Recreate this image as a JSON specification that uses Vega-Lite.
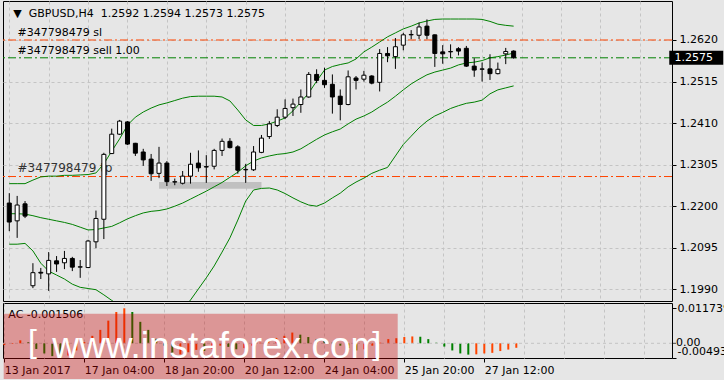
{
  "$schema": "https://vega.github.io/schema/vega-lite/v6.json",
  "background": "#e6e6e6",
  "padding": {"left": 2, "top": 0, "right": 0, "bottom": 0},
  "spacing": 2,
  "bounds": "flush",
  "config": {
    "view": {"stroke": "#000000", "strokeWidth": 1},
    "font": "DejaVu Sans",
    "axis": {"labelFont": "DejaVu Sans", "labelFontSize": 11, "labelColor": "#000000", "gridColor": "#c4c4c4", "gridDash": [3, 3], "gridWidth": 1, "tickColor": "#000000", "domain": false}
  },
  "datasets": {
    "bars": [
      {"i":0,"o":1.2208,"h":1.2233,"l":1.2137,"c":1.2160,"u":1.2257,"m":1.2181,"lo":1.2104,"ac":-0.0006,"d":"g"},
      {"i":1,"o":1.2163,"h":1.2226,"l":1.2120,"c":1.2203,"u":1.2257,"m":1.2181,"lo":1.2104,"ac":-0.0002,"d":"g"},
      {"i":2,"o":1.2206,"h":1.2213,"l":1.2170,"c":1.2175,"u":1.2257,"m":1.2180,"lo":1.2106,"ac":0.0010,"d":"g"},
      {"i":3,"o":1.1999,"h":1.2056,"l":1.1993,"c":1.2032,"u":1.2266,"m":1.2176,"lo":1.2087,"ac":0.0004,"d":"r"},
      {"i":4,"o":1.2033,"h":1.2044,"l":1.2016,"c":1.2031,"u":1.2274,"m":1.2171,"lo":1.2056,"ac":-0.0019,"d":"r"},
      {"i":5,"o":1.2029,"h":1.2084,"l":1.1986,"c":1.2063,"u":1.2276,"m":1.2167,"lo":1.2036,"ac":-0.0034,"d":"r"},
      {"i":6,"o":1.2062,"h":1.2074,"l":1.2034,"c":1.2054,"u":1.2276,"m":1.2163,"lo":1.2026,"ac":-0.0043,"d":"r"},
      {"i":7,"o":1.2057,"h":1.2087,"l":1.2041,"c":1.2068,"u":1.2278,"m":1.2159,"lo":1.2016,"ac":-0.00493,"d":"r"},
      {"i":8,"o":1.2068,"h":1.2072,"l":1.2036,"c":1.2046,"u":1.2278,"m":1.2154,"lo":1.2003,"ac":-0.0041,"d":"g"},
      {"i":9,"o":1.2046,"h":1.2064,"l":1.2019,"c":1.2047,"u":1.2279,"m":1.2147,"lo":1.1995,"ac":-0.0024,"d":"g"},
      {"i":10,"o":1.2045,"h":1.2115,"l":1.2044,"c":1.2112,"u":1.2280,"m":1.2140,"lo":1.1992,"ac":0.0004,"d":"g"},
      {"i":11,"o":1.2110,"h":1.2189,"l":1.2094,"c":1.2169,"u":1.2284,"m":1.2141,"lo":1.1989,"ac":0.0025,"d":"g"},
      {"i":12,"o":1.2167,"h":1.2335,"l":1.2117,"c":1.2331,"u":1.2307,"m":1.2145,"lo":1.1976,"ac":0.0045,"d":"g"},
      {"i":13,"o":1.2333,"h":1.2396,"l":1.2332,"c":1.2382,"u":1.2339,"m":1.2149,"lo":1.1962,"ac":0.0076,"d":"g"},
      {"i":14,"o":1.2382,"h":1.2418,"l":1.2380,"c":1.2415,"u":1.2370,"m":1.2158,"lo":1.1948,"ac":0.0105,"d":"g"},
      {"i":15,"o":1.2413,"h":1.2415,"l":1.2355,"c":1.2357,"u":1.2405,"m":1.2168,"lo":1.1930,"ac":0.011739,"d":"g"},
      {"i":16,"o":1.2359,"h":1.2360,"l":1.2327,"c":1.2334,"u":1.2425,"m":1.2176,"lo":1.1917,"ac":0.0105,"d":"r"},
      {"i":17,"o":1.2337,"h":1.2345,"l":1.2302,"c":1.2317,"u":1.2438,"m":1.2183,"lo":1.1910,"ac":0.0072,"d":"r"},
      {"i":18,"o":1.2319,"h":1.2332,"l":1.2264,"c":1.2282,"u":1.2448,"m":1.2187,"lo":1.1905,"ac":0.0045,"d":"r"},
      {"i":19,"o":1.2283,"h":1.2350,"l":1.2271,"c":1.2309,"u":1.2456,"m":1.2189,"lo":1.1905,"ac":0.0015,"d":"r"},
      {"i":20,"o":1.2309,"h":1.2314,"l":1.2251,"c":1.2262,"u":1.2461,"m":1.2193,"lo":1.1910,"ac":-0.0008,"d":"r"},
      {"i":21,"o":1.2261,"h":1.2270,"l":1.2253,"c":1.2262,"u":1.2467,"m":1.2200,"lo":1.1923,"ac":-0.0042,"d":"r"},
      {"i":22,"o":1.2258,"h":1.2289,"l":1.2255,"c":1.2276,"u":1.2473,"m":1.2208,"lo":1.1940,"ac":-0.0037,"d":"g"},
      {"i":23,"o":1.2276,"h":1.2335,"l":1.2257,"c":1.2306,"u":1.2477,"m":1.2218,"lo":1.1963,"ac":-0.0030,"d":"g"},
      {"i":24,"o":1.2309,"h":1.2341,"l":1.2287,"c":1.2297,"u":1.2478,"m":1.2228,"lo":1.1991,"ac":-0.0022,"d":"g"},
      {"i":25,"o":1.2300,"h":1.2329,"l":1.2259,"c":1.2299,"u":1.2478,"m":1.2238,"lo":1.2019,"ac":-0.0026,"d":"r"},
      {"i":26,"o":1.2301,"h":1.2345,"l":1.2293,"c":1.2341,"u":1.2478,"m":1.2249,"lo":1.2049,"ac":-0.0018,"d":"g"},
      {"i":27,"o":1.2341,"h":1.2371,"l":1.2327,"c":1.2364,"u":1.2476,"m":1.2260,"lo":1.2084,"ac":-0.0008,"d":"g"},
      {"i":28,"o":1.2364,"h":1.2372,"l":1.2346,"c":1.2348,"u":1.2466,"m":1.2273,"lo":1.2120,"ac":-0.0012,"d":"r"},
      {"i":29,"o":1.2350,"h":1.2354,"l":1.2282,"c":1.2291,"u":1.2443,"m":1.2286,"lo":1.2165,"ac":-0.0020,"d":"r"},
      {"i":30,"o":1.2292,"h":1.2307,"l":1.2259,"c":1.2293,"u":1.2418,"m":1.2302,"lo":1.2213,"ac":-0.0016,"d":"g"},
      {"i":31,"o":1.2292,"h":1.2352,"l":1.2289,"c":1.2337,"u":1.2404,"m":1.2314,"lo":1.2241,"ac":-0.0008,"d":"g"},
      {"i":32,"o":1.2336,"h":1.2380,"l":1.2334,"c":1.2372,"u":1.2404,"m":1.2322,"lo":1.2245,"ac":0.0002,"d":"g"},
      {"i":33,"o":1.2376,"h":1.2415,"l":1.2370,"c":1.2408,"u":1.2408,"m":1.2327,"lo":1.2246,"ac":0.0010,"d":"g"},
      {"i":34,"o":1.2404,"h":1.2445,"l":1.2400,"c":1.2425,"u":1.2415,"m":1.2331,"lo":1.2241,"ac":0.0018,"d":"g"},
      {"i":35,"o":1.2425,"h":1.2470,"l":1.2420,"c":1.2447,"u":1.2423,"m":1.2333,"lo":1.2232,"ac":0.0025,"d":"g"},
      {"i":36,"o":1.2449,"h":1.2472,"l":1.2428,"c":1.2458,"u":1.2441,"m":1.2337,"lo":1.2221,"ac":0.0036,"d":"g"},
      {"i":37,"o":1.2457,"h":1.2495,"l":1.2436,"c":1.2476,"u":1.2463,"m":1.2345,"lo":1.2211,"ac":0.0029,"d":"r"},
      {"i":38,"o":1.2476,"h":1.2539,"l":1.2474,"c":1.2533,"u":1.2486,"m":1.2357,"lo":1.2203,"ac":0.0021,"d":"r"},
      {"i":39,"o":1.2533,"h":1.2546,"l":1.2511,"c":1.2518,"u":1.2516,"m":1.2369,"lo":1.2200,"ac":0.0013,"d":"r"},
      {"i":40,"o":1.2518,"h":1.2550,"l":1.2499,"c":1.2507,"u":1.2544,"m":1.2380,"lo":1.2208,"ac":0.0008,"d":"r"},
      {"i":41,"o":1.2508,"h":1.2533,"l":1.2434,"c":1.2476,"u":1.2553,"m":1.2388,"lo":1.2221,"ac":0.0002,"d":"r"},
      {"i":42,"o":1.2478,"h":1.2495,"l":1.2417,"c":1.2457,"u":1.2558,"m":1.2395,"lo":1.2233,"ac":-0.0008,"d":"r"},
      {"i":43,"o":1.2457,"h":1.2543,"l":1.2455,"c":1.2527,"u":1.2562,"m":1.2408,"lo":1.2249,"ac":-0.0016,"d":"r"},
      {"i":44,"o":1.2524,"h":1.2529,"l":1.2495,"c":1.2518,"u":1.2572,"m":1.2420,"lo":1.2261,"ac":-0.0024,"d":"r"},
      {"i":45,"o":1.2521,"h":1.2542,"l":1.2515,"c":1.2531,"u":1.2590,"m":1.2428,"lo":1.2271,"ac":-0.0020,"d":"g"},
      {"i":46,"o":1.2529,"h":1.2531,"l":1.2508,"c":1.2511,"u":1.2602,"m":1.2438,"lo":1.2283,"ac":-0.0008,"d":"g"},
      {"i":47,"o":1.2513,"h":1.2597,"l":1.2490,"c":1.2586,"u":1.2615,"m":1.2451,"lo":1.2291,"ac":0.0002,"d":"g"},
      {"i":48,"o":1.2586,"h":1.2602,"l":1.2564,"c":1.2580,"u":1.2628,"m":1.2463,"lo":1.2298,"ac":0.0014,"d":"g"},
      {"i":49,"o":1.2578,"h":1.2625,"l":1.2547,"c":1.2603,"u":1.2638,"m":1.2478,"lo":1.2327,"ac":0.0017,"d":"g"},
      {"i":50,"o":1.2607,"h":1.2638,"l":1.2594,"c":1.2633,"u":1.2648,"m":1.2494,"lo":1.2356,"ac":0.0021,"d":"g"},
      {"i":51,"o":1.2633,"h":1.2645,"l":1.2622,"c":1.2634,"u":1.2655,"m":1.2509,"lo":1.2377,"ac":0.0023,"d":"g"},
      {"i":52,"o":1.2632,"h":1.2664,"l":1.2622,"c":1.2653,"u":1.2663,"m":1.2521,"lo":1.2398,"ac":0.0022,"d":"r"},
      {"i":53,"o":1.2655,"h":1.2672,"l":1.2622,"c":1.2632,"u":1.2668,"m":1.2532,"lo":1.2415,"ac":0.0014,"d":"r"},
      {"i":54,"o":1.2633,"h":1.2634,"l":1.2552,"c":1.2586,"u":1.2672,"m":1.2539,"lo":1.2428,"ac":0.0002,"d":"r"},
      {"i":55,"o":1.2590,"h":1.2607,"l":1.2560,"c":1.2585,"u":1.2673,"m":1.2544,"lo":1.2437,"ac":-0.0011,"d":"r"},
      {"i":56,"o":1.2590,"h":1.2609,"l":1.2574,"c":1.2591,"u":1.2673,"m":1.2549,"lo":1.2447,"ac":-0.0024,"d":"r"},
      {"i":57,"o":1.2598,"h":1.2602,"l":1.2581,"c":1.2592,"u":1.2673,"m":1.2557,"lo":1.2454,"ac":-0.0034,"d":"r"},
      {"i":58,"o":1.2599,"h":1.2605,"l":1.2552,"c":1.2554,"u":1.2673,"m":1.2562,"lo":1.2460,"ac":-0.0038,"d":"r"},
      {"i":59,"o":1.2554,"h":1.2574,"l":1.2527,"c":1.2544,"u":1.2673,"m":1.2564,"lo":1.2463,"ac":-0.0037,"d":"g"},
      {"i":60,"o":1.2546,"h":1.2563,"l":1.2515,"c":1.2547,"u":1.2672,"m":1.2568,"lo":1.2468,"ac":-0.0034,"d":"g"},
      {"i":61,"o":1.2547,"h":1.2584,"l":1.2519,"c":1.2535,"u":1.2667,"m":1.2575,"lo":1.2484,"ac":-0.0032,"d":"g"},
      {"i":62,"o":1.2535,"h":1.2563,"l":1.2533,"c":1.2546,"u":1.2660,"m":1.2578,"lo":1.2494,"ac":-0.0026,"d":"g"},
      {"i":63,"o":1.2585,"h":1.2600,"l":1.2559,"c":1.2591,"u":1.2657,"m":1.2582,"lo":1.2499,"ac":-0.0021,"d":"g"},
      {"i":64,"o":1.2592,"h":1.2594,"l":1.2573,"c":1.2575,"u":1.2655,"m":1.2587,"lo":1.2504,"ac":-0.001506,"d":"g"}
    ],
    "orders": [
      {"label": "#347798479 sl", "p": 1.2620, "k": "sl"},
      {"label": "#347798479 sell 1.00", "p": 1.2575, "k": "sell"},
      {"label": "#347798479 tp", "p": 1.2275, "k": "tp"}
    ]
  },
  "vconcat": [
    {
      "width": 669,
      "height": 300,
      "layer": [
        {
          "data": {"values": [{"a": 19, "b": 32, "t": 1.2261, "bt": 1.2244}]},
          "mark": {"type": "rect", "color": "#c0c0c0", "clip": true},
          "encoding": {
            "x": {"field": "a", "type": "quantitative", "title": null, "scale": {"domain": [-0.1625, 83.4625], "nice": false, "zero": false},
                  "axis": {"values": [0,5,10,15,20,25,30,35,40,45,50,55,60,65,70,75,80], "labels": false, "ticks": false, "domain": false, "grid": true, "title": null}},
            "x2": {"field": "b"},
            "y": {"field": "t", "type": "quantitative", "title": null, "scale": {"domain": [1.196045, 1.271855], "nice": false, "zero": false},
                  "axis": {"orient": "right", "values": [1.199, 1.2095, 1.22, 1.2305, 1.241, 1.2515, 1.262], "format": ".4f", "tickSize": 4, "labelPadding": 3, "domain": false, "grid": true, "title": null}},
            "y2": {"field": "bt"}
          }
        },
        {
          "data": {"name": "orders"},
          "mark": {"type": "rule", "strokeDash": [8, 3, 2, 3], "strokeWidth": 1},
          "encoding": {
            "y": {"field": "p", "type": "quantitative", "title": null, "scale": {"domain": [1.196045, 1.271855], "nice": false, "zero": false}},
            "color": {"field": "k", "type": "nominal", "scale": {"domain": ["sl", "sell", "tp"], "range": ["#ff4500", "#008000", "#ff4500"]}, "legend": null}
          }
        },
        {
          "data": {"name": "orders"},
          "mark": {"type": "text", "align": "left", "baseline": "bottom", "dy": -2, "font": "DejaVu Sans"},
          "encoding": {
            "x": {"datum": 1.05, "type": "quantitative", "scale": {"domain": [-0.1625, 83.4625], "nice": false, "zero": false}},
            "y": {"field": "p", "type": "quantitative", "title": null, "scale": {"domain": [1.196045, 1.271855], "nice": false, "zero": false}},
            "text": {"field": "label"},
            "color": {"condition": {"test": "datum.k == 'tp'", "value": "#333333"}, "value": "#000000"},
            "size": {"condition": {"test": "datum.k == 'tp'", "value": 12}, "value": 11}
          }
        },
        {
          "data": {"name": "bars"},
          "transform": [{"fold": ["u", "m", "lo"], "as": ["band", "val"]}],
          "mark": {"type": "line", "color": "#008000", "strokeWidth": 1, "clip": true},
          "encoding": {
            "x": {"field": "i", "type": "quantitative", "title": null, "scale": {"domain": [-0.1625, 83.4625], "nice": false, "zero": false}},
            "y": {"field": "val", "type": "quantitative", "title": null, "scale": {"domain": [1.196045, 1.271855], "nice": false, "zero": false}},
            "detail": {"field": "band"}
          }
        },
        {
          "data": {"name": "bars"},
          "mark": {"type": "rule", "color": "#000000", "strokeWidth": 1, "clip": true},
          "encoding": {
            "x": {"field": "i", "type": "quantitative", "title": null, "scale": {"domain": [-0.1625, 83.4625], "nice": false, "zero": false}},
            "y": {"field": "l", "type": "quantitative", "title": null, "scale": {"domain": [1.196045, 1.271855], "nice": false, "zero": false}},
            "y2": {"field": "h"}
          }
        },
        {
          "data": {"name": "bars"},
          "mark": {"type": "bar", "width": 4, "stroke": "#000000", "strokeWidth": 1, "clip": true},
          "encoding": {
            "x": {"field": "i", "type": "quantitative", "title": null, "scale": {"domain": [-0.1625, 83.4625], "nice": false, "zero": false}},
            "y": {"field": "o", "type": "quantitative", "title": null, "scale": {"domain": [1.196045, 1.271855], "nice": false, "zero": false}},
            "y2": {"field": "c"},
            "fill": {"condition": {"test": "datum.c < datum.o", "value": "#000000"}, "value": "#ffffff"}
          }
        },
        {
          "data": {"values": [{"t": "▼\u00a0\u00a0GBPUSD,H4\u00a0\u00a01.2592 1.2594 1.2573 1.2575"}]},
          "mark": {"type": "text", "align": "left", "baseline": "middle", "fontSize": 11, "color": "#000000"},
          "encoding": {
            "x": {"datum": 0.5, "type": "quantitative", "scale": {"domain": [-0.1625, 83.4625], "nice": false, "zero": false}},
            "y": {"datum": 1.26857, "type": "quantitative", "scale": {"domain": [1.196045, 1.271855], "nice": false, "zero": false}},
            "text": {"field": "t"}
          }
        },
        {
          "data": {"values": [{"t": "1.2575"}]},
          "mark": {"type": "rect", "color": "#000000", "clip": false},
          "encoding": {
            "x": {"datum": 83.75, "type": "quantitative", "scale": {"domain": [-0.1625, 83.4625], "nice": false, "zero": false}},
            "x2": {"datum": 90.6},
            "y": {"datum": 1.25573, "type": "quantitative", "scale": {"domain": [1.196045, 1.271855], "nice": false, "zero": false}},
            "y2": {"datum": 1.25927}
          }
        },
        {
          "data": {"values": [{"t": "1.2575"}]},
          "mark": {"type": "text", "align": "left", "baseline": "middle", "fontSize": 11, "color": "#ffffff", "clip": false},
          "encoding": {
            "x": {"datum": 84.4, "type": "quantitative", "scale": {"domain": [-0.1625, 83.4625], "nice": false, "zero": false}},
            "y": {"datum": 1.2575, "type": "quantitative", "scale": {"domain": [1.196045, 1.271855], "nice": false, "zero": false}},
            "text": {"field": "t"}
          }
        }
      ]
    },
    {
      "width": 669,
      "height": 55,
      "layer": [
        {
          "data": {"name": "bars"},
          "mark": {"type": "rule", "strokeWidth": 2, "clip": true},
          "encoding": {
            "x": {"field": "i", "type": "quantitative", "title": null, "scale": {"domain": [-0.1625, 83.4625], "nice": false, "zero": false},
                  "axis": {"values": [0,5,10,15,20,25,30,35,40,45,50,55,60,65,70,75,80], "grid": true, "domain": false, "title": null,
                           "labelExpr": "datum.value == 0 ? '13 Jan 2017' : datum.value == 10 ? '17 Jan 04:00' : datum.value == 20 ? '18 Jan 20:00' : datum.value == 30 ? '20 Jan 12:00' : datum.value == 40 ? '24 Jan 04:00' : datum.value == 50 ? '25 Jan 20:00' : datum.value == 60 ? '27 Jan 12:00' : ''",
                           "labelAlign": "left", "labelFlush": false, "labelOverlap": false, "labelBound": false, "tickSize": 4, "labelPadding": 2,
                           "tickOpacity": {"condition": {"test": "datum.value % 10 !== 0 || datum.value > 60", "value": 0}, "value": 1}}},
            "y": {"field": "ac", "type": "quantitative", "title": null, "scale": {"domain": [-0.00493, 0.013516], "nice": false, "zero": false},
                  "axis": {"orient": "right", "values": [-0.00493, 0.011739], "grid": false, "domain": false, "title": null, "tickSize": 4, "labelPadding": 1, "labelOverlap": false, "labelBound": false,
                           "labelExpr": "datum.value > 0.001 ? '0.011739' : '-0.00493'",
                           "labelOffset": {"condition": {"test": "datum.value < -0.001", "value": -7}, "value": 0}}},
            "y2": {"datum": 0},
            "color": {"field": "d", "type": "nominal", "scale": {"domain": ["g", "r"], "range": ["#008000", "#ff0000"]}, "legend": null}
          }
        },
        {
          "data": {"values": [{"z": 0}]},
          "mark": {"type": "rule", "color": "#c4c4c4", "strokeDash": [3, 3], "strokeWidth": 1},
          "encoding": {
            "y": {"field": "z", "type": "quantitative", "title": null, "scale": {"domain": [-0.00493, 0.013516], "nice": false, "zero": false}}
          }
        },
        {
          "data": {"values": [{"t": "-"}]},
          "mark": {"type": "tick", "color": "#000000", "thickness": 1, "size": 4, "orient": "horizontal", "clip": false},
          "encoding": {
            "x": {"datum": 83.71, "type": "quantitative", "scale": {"domain": [-0.1625, 83.4625], "nice": false, "zero": false}},
            "y": {"datum": 0, "type": "quantitative", "scale": {"domain": [-0.00493, 0.013516], "nice": false, "zero": false}}
          }
        },
        {
          "data": {"values": [{"t": "0.00"}]},
          "mark": {"type": "text", "align": "left", "baseline": "middle", "fontSize": 11, "color": "#000000", "clip": false},
          "encoding": {
            "x": {"datum": 83.96, "type": "quantitative", "scale": {"domain": [-0.1625, 83.4625], "nice": false, "zero": false}},
            "y": {"datum": 0, "type": "quantitative", "scale": {"domain": [-0.00493, 0.013516], "nice": false, "zero": false}},
            "text": {"field": "t"}
          }
        },
        {
          "data": {"values": [{"t": "AC -0.001506"}]},
          "mark": {"type": "text", "align": "left", "baseline": "middle", "fontSize": 11, "color": "#000000"},
          "encoding": {
            "x": {"datum": 0.5, "type": "quantitative", "scale": {"domain": [-0.1625, 83.4625], "nice": false, "zero": false}},
            "y": {"datum": 0.00949, "type": "quantitative", "scale": {"domain": [-0.00493, 0.013516], "nice": false, "zero": false}},
            "text": {"field": "t"}
          }
        },
        {
          "data": {"values": [{"t": "wm"}]},
          "mark": {"type": "rect", "color": "#c80000", "fillOpacity": 0.35, "clip": false},
          "encoding": {
            "x": {"datum": -0.075, "type": "quantitative", "scale": {"domain": [-0.1625, 83.4625], "nice": false, "zero": false}},
            "x2": {"datum": 49.175},
            "y": {"datum": 0.009927, "type": "quantitative", "scale": {"domain": [-0.00493, 0.013516], "nice": false, "zero": false}},
            "y2": {"datum": -0.011973}
          }
        },
        {
          "data": {"values": [{"t": "www.instaforex.com"}]},
          "mark": {"type": "text", "align": "left", "baseline": "alphabetic", "fontSize": 37, "font": "Liberation Sans", "color": "#ffffff", "clip": false},
          "encoding": {
            "x": {"datum": 6.0, "type": "quantitative", "scale": {"domain": [-0.1625, 83.4625], "nice": false, "zero": false}},
            "y": {"datum": -0.00493, "type": "quantitative", "scale": {"domain": [-0.00493, 0.013516], "nice": false, "zero": false}},
            "text": {"field": "t"}
          }
        },
        {
          "data": {"values": [{"t": "["}]},
          "mark": {"type": "text", "align": "left", "baseline": "alphabetic", "fontSize": 32, "font": "Liberation Sans", "color": "#ffffff", "clip": false},
          "encoding": {
            "x": {"datum": 2.96, "type": "quantitative", "scale": {"domain": [-0.1625, 83.4625], "nice": false, "zero": false}},
            "y": {"datum": -0.00292, "type": "quantitative", "scale": {"domain": [-0.00493, 0.013516], "nice": false, "zero": false}},
            "text": {"field": "t"}
          }
        },
        {
          "data": {"values": [{"t": "]"}]},
          "mark": {"type": "text", "align": "left", "baseline": "alphabetic", "fontSize": 32, "font": "Liberation Sans", "color": "#ffffff", "clip": false},
          "encoding": {
            "x": {"datum": 46.0, "type": "quantitative", "scale": {"domain": [-0.1625, 83.4625], "nice": false, "zero": false}},
            "y": {"datum": -0.00359, "type": "quantitative", "scale": {"domain": [-0.00493, 0.013516], "nice": false, "zero": false}},
            "text": {"field": "t"}
          }
        }
      ]
    }
  ]
}
